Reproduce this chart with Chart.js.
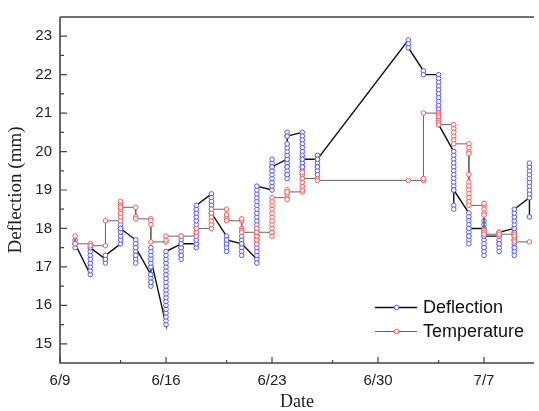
<!DOCTYPE html>
<html>
<head>
<meta charset="utf-8">
<script src="https://cdn.jsdelivr.net/npm/chart.js@4"></script>
<style>
  html, body { margin: 0; padding: 0; background: #fff; }
</style>
</head>
<body>
<canvas id="chart" width="539" height="411"></canvas>
<script>
// days counted from 6/9
const days = [1, 2, 3, 4, 5, 6, 7, 8, 9, 10, 11, 12, 13, 14, 15, 16, 17,
              23, 24, 25, 26, 27, 28, 29, 30, 31]

// readings of each day, in the order they were taken
const deflection = [
  [17.7, 17.6, 17.5, 17.6],
  [16.8, 16.9, 17.0, 17.1, 17.2, 17.3, 17.4, 17.5],
  [17.2, 17.1, 17.2, 17.3],
  [17.6, 17.7, 17.8, 17.9, 18.0, 18.1, 18.0],
  [17.7, 17.6, 17.5, 17.4, 17.3, 17.2, 17.1, 17.3, 17.5],
  [16.8, 16.7, 16.6, 16.5, 16.6, 16.8, 17.0, 17.1, 17.3, 17.4, 17.5, 17.2],
  [15.5, 15.6, 15.7, 15.8, 15.9, 16.0, 16.1, 16.2, 16.3, 16.4, 16.5, 16.6, 16.7, 16.8, 16.9, 17.0, 17.1, 17.2, 17.3, 17.4],
  [17.6, 17.5, 17.4, 17.3, 17.2, 17.3, 17.5, 17.7, 17.8, 17.6],
  [17.6, 17.5, 17.6, 17.7, 17.8, 17.9, 18.0, 18.1, 18.2, 18.3, 18.4, 18.5, 18.6],
  [18.9, 18.8, 18.7, 18.6, 18.5, 18.4],
  [17.8, 17.7, 17.6, 17.5, 17.4, 17.6, 17.7],
  [17.6, 17.7, 17.8, 17.6, 17.5, 17.4, 17.3, 17.6],
  [17.2, 17.1, 17.3, 17.4, 17.5, 17.6, 17.7, 17.8, 17.9, 18.0, 18.1, 18.2, 18.3, 18.4, 18.5, 18.6, 18.7, 18.8, 18.9, 19.0, 19.1],
  [19.0, 19.1, 19.2, 19.3, 19.4, 19.5, 19.6, 19.7, 19.8, 19.6],
  [19.8, 19.7, 19.6, 19.5, 19.4, 19.3, 19.4, 19.6, 19.8, 19.9, 20.0, 20.1, 20.2, 20.4, 20.5, 20.4],
  [20.5, 20.4, 20.3, 20.2, 20.1, 20.0, 19.9, 19.8, 19.7, 19.6, 19.5, 19.6, 19.8],
  [19.8, 19.9, 19.8, 19.7, 19.6, 19.5, 19.4, 19.6, 19.8],
  [22.9, 22.8, 22.7],
  [22.1, 22.0],
  [22.0, 21.9, 21.8, 21.7, 21.6, 21.5, 21.4, 21.3, 21.2, 21.1, 21.0, 20.9, 20.8, 20.7],
  [20.0, 19.9, 19.8, 19.7, 19.6, 19.5, 19.4, 19.3, 19.2, 19.1, 19.0, 18.6, 18.5, 19.0],
  [18.4, 18.3, 18.2, 18.1, 18.0, 17.9, 17.8, 17.7, 17.6, 17.8, 18.0],
  [18.0, 18.2, 18.1, 17.9, 17.8, 17.7, 17.6, 17.5, 17.4, 17.3, 17.5, 17.8],
  [17.8, 17.7, 17.6, 17.5, 17.4, 17.6, 17.8, 17.9],
  [18.0, 17.9, 17.8, 17.7, 17.6, 17.5, 17.4, 17.3, 17.5, 17.7, 17.9, 18.0, 18.1, 18.2, 18.3, 18.4, 18.5],
  [18.8, 18.9, 19.0, 19.1, 19.2, 19.3, 19.4, 19.5, 19.6, 19.7, 18.3]
]

const temperature = [
  [17.8, 17.6],
  [17.6, 17.55],
  [17.55, 18.2],
  [18.2, 18.3, 18.4, 18.5, 18.6, 18.7, 18.55],
  [18.55, 18.3, 18.25],
  [18.25, 18.2, 18.1, 17.65],
  [17.65, 17.7, 17.8],
  [17.8],
  [17.8, 17.9, 18.0],
  [18.0, 18.1, 18.2, 18.3, 18.4, 18.5],
  [18.5, 18.35, 18.25, 18.2],
  [18.2, 18.25, 18.0, 17.95, 17.9],
  [17.9, 17.8, 17.7, 17.6, 17.7, 17.8, 17.9, 18.0, 17.9],
  [17.9, 17.8, 17.9, 18.0, 18.1, 18.2, 18.3, 18.4, 18.5, 18.6, 18.7, 18.8],
  [18.8, 18.75, 18.9, 19.0, 18.95],
  [18.95, 19.0, 19.1, 19.2, 19.3, 19.4, 19.45, 19.3],
  [19.3, 19.25],
  [19.25],
  [19.25, 19.3, 21.0],
  [21.0, 20.95, 20.9, 20.8, 20.75, 20.7],
  [20.7, 20.6, 20.5, 20.4, 20.3, 20.2],
  [20.2, 20.1, 20.0, 19.95, 19.4, 19.2, 19.1, 19.0, 18.9, 18.8, 18.7, 18.6],
  [18.6, 18.65, 18.5, 18.4, 18.35, 17.95, 17.9, 17.85],
  [17.85, 17.9, 17.8, 17.85],
  [17.85, 17.8, 17.7, 17.65],
  [17.65]
]

const xTickDays = [0, 7, 14, 21, 28]
const xTickLabels = ['6/9', '6/16', '6/23', '6/30', '7/7']
const xMinorDays = [4, 11, 18, 25]
const yTicks = [15, 16, 17, 18, 19, 20, 21, 22, 23]
const yMinor = [15.5, 16.5, 17.5, 18.5, 19.5, 20.5, 21.5, 22.5]

const sans = "'Liberation Sans', Arial, sans-serif"
const serif = "'Liberation Serif', 'Times New Roman', serif"
const blue = 'rgb(85,85,255)'
const red = 'rgb(255,85,85)'

function toPoints(series) {
  return days.flatMap((d, i) => series[i].map(v => ({ x: d, y: v })))
}

// axes frame, inward ticks, legend
const frame = {
  id: 'frame',
  afterDraw(chart) {
    const { ctx, chartArea: a, scales: { x, y } } = chart
    ctx.save()
    ctx.strokeStyle = '#444'
    ctx.lineWidth = 1.6
    ctx.beginPath()
    ctx.moveTo(a.left, a.top); ctx.lineTo(a.right, a.top)
    ctx.moveTo(a.left, a.top); ctx.lineTo(a.left, a.bottom); ctx.lineTo(a.right, a.bottom)
    ctx.stroke()

    ctx.lineWidth = 1.2
    ctx.beginPath()
    yTicks.forEach(v => { const p = y.getPixelForValue(v); ctx.moveTo(a.left, p); ctx.lineTo(a.left + 7, p) })
    yMinor.forEach(v => { const p = y.getPixelForValue(v); ctx.moveTo(a.left, p); ctx.lineTo(a.left + 4, p) })
    xTickDays.forEach(v => { const p = x.getPixelForValue(v); ctx.moveTo(p, a.bottom); ctx.lineTo(p, a.bottom - 6) })
    xMinorDays.forEach(v => { const p = x.getPixelForValue(v); ctx.moveTo(p, a.bottom); ctx.lineTo(p, a.bottom - 3) })
    ctx.stroke()

    // legend
    const rows = [
      { text: 'Deflection', line: '#111', lw: 1.4, mark: blue, y: 307.5 },
      { text: 'Temperature', line: '#666', lw: 1, mark: red, y: 331.5 }
    ]
    ctx.font = '18px ' + sans
    ctx.textBaseline = 'middle'
    ctx.fillStyle = '#111'
    rows.forEach(r => {
      ctx.strokeStyle = r.line
      ctx.lineWidth = r.lw
      ctx.beginPath(); ctx.moveTo(375, r.y); ctx.lineTo(417, r.y); ctx.stroke()
      ctx.fillStyle = '#fff'
      ctx.strokeStyle = r.mark
      ctx.lineWidth = 1
      ctx.beginPath(); ctx.arc(396.5, r.y, 2.3, 0, Math.PI * 2); ctx.fill(); ctx.stroke()
      ctx.fillStyle = '#111'
      ctx.fillText(r.text, 423, r.y + 1)
    })
    ctx.restore()
  }
}

new Chart(document.getElementById('chart'), {
  type: 'scatter',
  data: {
    datasets: [{
      label: 'Temperature',
      data: toPoints(temperature),
      showLine: true,
      borderColor: '#666',
      borderWidth: 1,
      pointRadius: 2.3,
      pointBorderWidth: 1,
      pointBorderColor: red,
      pointBackgroundColor: '#fff',
      order: 0
    }, {
      label: 'Deflection',
      data: toPoints(deflection),
      showLine: true,
      borderColor: '#111',
      borderWidth: 1.4,
      pointRadius: 2.3,
      pointBorderWidth: 1,
      pointBorderColor: blue,
      pointBackgroundColor: '#fff',
      order: 1
    }]
  },
  options: {
    responsive: false,
    animation: false,
    layout: { padding: { top: 8, left: 0, right: 0, bottom: 0 } },
    plugins: { legend: { display: false }, tooltip: { enabled: false } },
    scales: {
      x: {
        type: 'linear',
        min: 0,
        max: 31.3,
        grid: { display: false, drawTicks: false },
        border: { display: false },
        afterBuildTicks: s => { s.ticks = xTickDays.map(v => ({ value: v })) },
        afterFit: s => { s.height = 48 },
        ticks: {
          autoSkip: false,
          maxRotation: 0,
          padding: 9,
          color: '#222',
          font: { family: sans, size: 15 },
          callback: (v, i) => xTickLabels[i]
        },
        title: {
          display: true,
          text: 'Date',
          color: '#222',
          font: { family: serif, size: 18 },
          padding: { top: 0, bottom: -2 }
        }
      },
      y: {
        min: 14.5,
        max: 23.5,
        grid: { display: false, drawTicks: false },
        border: { display: false },
        afterBuildTicks: s => { s.ticks = yTicks.map(v => ({ value: v })) },
        afterFit: s => { s.width = 60 },
        ticks: {
          padding: 8,
          color: '#222',
          font: { family: sans, size: 15 }
        },
        title: {
          display: true,
          text: 'Deflection (mm)',
          color: '#222',
          font: { family: serif, size: 19 },
          padding: { top: 5, bottom: 0 }
        }
      }
    }
  },
  plugins: [frame]
})
</script>
</body>
</html>
